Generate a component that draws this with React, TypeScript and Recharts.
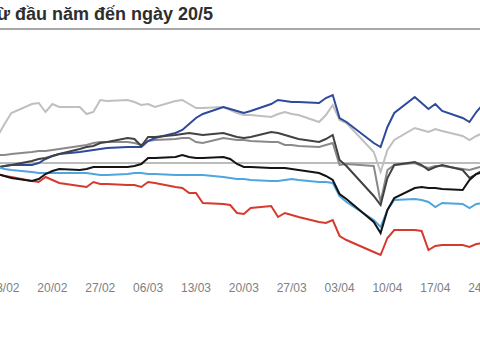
import React from 'react';
import { LineChart, Line, XAxis, YAxis, ReferenceLine } from 'recharts';

// trading days shown (2025), dd/mm
const dates = [
  '10/02', '11/02', '12/02', '13/02', '14/02', '17/02', '18/02', '19/02', '20/02', '21/02',
  '24/02', '25/02', '26/02', '27/02', '28/02', '03/03', '04/03', '05/03', '06/03', '07/03',
  '10/03', '11/03', '12/03', '13/03', '14/03', '17/03', '18/03', '19/03', '20/03', '21/03',
  '24/03', '25/03', '26/03', '27/03', '28/03', '31/03', '01/04', '02/04', '03/04', '04/04',
  '08/04', '09/04', '10/04', '11/04', '14/04', '15/04', '16/04', '17/04', '18/04', '21/04',
  '22/04', '23/04', '24/04', '25/04',
];

const tickDates = ['13/02', '20/02', '27/02', '06/03', '13/03', '20/03', '27/03', '03/04', '10/04', '17/04', '24/04'];

// % change since start of year
const lightGray = [
  3.25, 4.5, 6.75, 9.75, 12.5, 14.75, 15, 12.75, 14.75, 14,
  14, 12.25, 12.75, 15.75, 15.5, 15.75, 15.25, 14.5, 14.75, 14,
  15.5, 15.75, 14.75, 13.75, 13.75, 14, 13.25, 12.5, 12, 12,
  11.5, 12.25, 12.75, 12.25, 12, 10.25, 12, 14.5, 10.75, 10,
  2.75, -2.25, 3.25, 5.75, 8.75, 8.25, 7.75, 8.5, 8, 6.75,
  5.75, 6.75, 7.5, 7.75,
];
const darkBlue = [
  -1.25, -1.25, -1, -0.75, -0.5, -0.5, 0, 1, 1.75, 2.25,
  2.75, 3, 3.25, 3.5, 3.75, 4, 4, 4, 5.5, 6.25,
  7.5, 8.25, 9.75, 11.25, 12.25, 14, 13.5, 13, 12.5, 13,
  14.75, 15.75, 15.5, 15.25, 15.25, 15, 16.25, 17, 11.25, 10.25,
  5, 4, 9, 12.5, 16.5, 15, 13.5, 14.75, 13, 11.25,
  10.25, 12.75, 14.75, 15.75,
];
const charcoal = [
  -1.75, -1.5, -1.25, -0.75, -0.5, 0.5, 1, 1.25, 1.75, 2.25,
  3.5, 4, 4.25, 5, 5.25, 6.25, 6, 4.25, 6.5, 6.5,
  7, 7.25, 7.5, 7.25, 7, 7.5, 7, 6.5, 6.25, 6.5,
  7.75, 7.5, 7, 6.5, 6, 5.25, 6, 7, 0.75, -0.75,
  -8.25, -10.5, -3.75, -0.5, 0.25, -0.5, -1.75, -1, -0.5, -1.75,
  -3.75, -2.75, -1.75, -1.25,
];
const midGray = [
  1.5, 1.75, 2, 2, 2.25, 2.75, 3, 3, 3.25, 3.5,
  4.25, 4.5, 5, 5.25, 5.25, 5.25, 5, 4.5, 5.5, 5.75,
  6, 6.25, 6.25, 5.25, 5, 6.25, 6, 5.75, 5.75, 5.5,
  5.25, 5.25, 4.5, 4.5, 4.25, 4, 4.5, 5, -0.5, -0.25,
  -0.75, -9.75, -1.75, -0.5, 0, -0.75, -1.25, -0.75, -0.75, -1.5,
  -1.75, -1.25, -0.75, -0.75,
];
const black = [
  -2.25, -2.5, -2.75, -3.25, -3.75, -4.5, -4, -2.75, -2, -1.5,
  -1.75, -1.5, -1, -1, -1, -1, -0.75, -0.25, 1.25, 1.25,
  1.5, 2, 1.5, 1.25, 1.25, 1.5, 1, -0.25, -1, -1,
  -1.25, -1.25, -1.25, -1.5, -1.75, -2.5, -3.25, -4.25, -7.75, -9,
  -14.75, -17.5, -11.75, -8.75, -6.25, -6, -6.25, -6.25, -6.5, -6.75,
  -4.25, -2.75, -2.25, -2,
];
const lightBlue = [
  -1, -1, -1, -1.5, -1.75, -2.25, -2.5, -2.5, -2.5, -2.5,
  -2.5, -2.5, -2.75, -3, -3, -2.75, -2.5, -2.5, -2.75, -2.75,
  -3, -3, -3, -3, -3, -3.5, -3.75, -4, -4, -4.25,
  -4.5, -4.5, -4.25, -4, -4.25, -4.75, -4.75, -5, -8.25, -9.75,
  -14.25, -16, -11.75, -9.25, -9, -9.25, -9.75, -11, -10, -10.25,
  -11.25, -10.25, -10, -9.75,
];
const red = [
  -2.25, -2.5, -2.75, -3.25, -3.5, -4.5, -4.75, -3.5, -4.25, -5,
  -5.75, -6, -4.75, -5.25, -5.25, -5.5, -5.5, -6, -4.75, -5,
  -6, -6.25, -7.5, -7.5, -10, -10.25, -10.5, -12.5, -12.75, -11.25,
  -10.75, -13.5, -12.5, -13, -13.5, -14.75, -15, -14.25, -18.25, -19.25,
  -22.25, -23, -18.75, -16.75, -16.75, -17, -21.75, -20.75, -20.5, -20.5,
  -21, -20.25, -20, -19.75,
];

const dayOf = (s: string) => {
  const [d, m] = s.split('/').map(Number);
  return Date.UTC(2025, m - 1, d) / 86400000;
};

const data = dates.map((s, i) => ({
  day: dayOf(s),
  lightGray: lightGray[i],
  darkBlue: darkBlue[i],
  charcoal: charcoal[i],
  midGray: midGray[i],
  black: black[i],
  lightBlue: lightBlue[i],
  red: red[i],
}));

const ticks = tickDates.map(dayOf);
const fmt = (v: number) => {
  const d = new Date(v * 86400000);
  const dd = String(d.getUTCDate()).padStart(2, '0');
  const mm = String(d.getUTCMonth() + 1).padStart(2, '0');
  return `${dd}/${mm}`;
};

const series = [
  { key: 'lightGray', color: '#bfbfbf' },
  { key: 'midGray', color: '#8a8a8a' },
  { key: 'darkBlue', color: '#2e4a9b' },
  { key: 'charcoal', color: '#424242' },
  { key: 'lightBlue', color: '#4ea5e0' },
  { key: 'red', color: '#d63a2e' },
  { key: 'black', color: '#141414' },
];

export default function App() {
  return (
    <div
      style={{
        position: 'fixed',
        left: 0,
        top: 0,
        width: 480,
        height: 360,
        overflow: 'hidden',
        background: '#fff',
        fontFamily: '"Liberation Sans", Arial, sans-serif',
      }}
    >
      <div
        style={{
          position: 'absolute',
          left: -9,
          top: 5,
          fontSize: 18,
          lineHeight: '18px',
          fontWeight: 'bold',
          color: '#2e2e2e',
          whiteSpace: 'nowrap',
        }}
      >
        từ đầu năm đến ngày 20/5
      </div>
      <div style={{ position: 'absolute', left: 0, top: 28, width: 480, height: 2, background: '#a8a8a8' }} />
      <div style={{ position: 'absolute', left: -16, top: 43 }}>
        <LineChart width={506} height={262} data={data} margin={{ top: 0, right: 0, bottom: 0, left: 0 }}>
          <XAxis
            dataKey="day"
            type="number"
            domain={['dataMin', 'dataMax']}
            ticks={ticks}
            interval={0}
            tickFormatter={fmt}
            axisLine={false}
            tickLine={false}
            tickSize={0}
            tickMargin={8}
            height={30}
            tick={{ fontSize: 12, fill: '#808080', fontFamily: '"Liberation Sans", Arial, sans-serif' }}
          />
          <YAxis hide domain={[-28, 30]} width={0} />
          <ReferenceLine y={0} stroke="#a6a6a6" strokeWidth={1.5} />
          {series.map((s) => (
            <Line
              key={s.key}
              dataKey={s.key}
              stroke={s.color}
              strokeWidth={2}
              dot={false}
              activeDot={false}
              isAnimationActive={false}
            />
          ))}
        </LineChart>
      </div>
    </div>
  );
}
